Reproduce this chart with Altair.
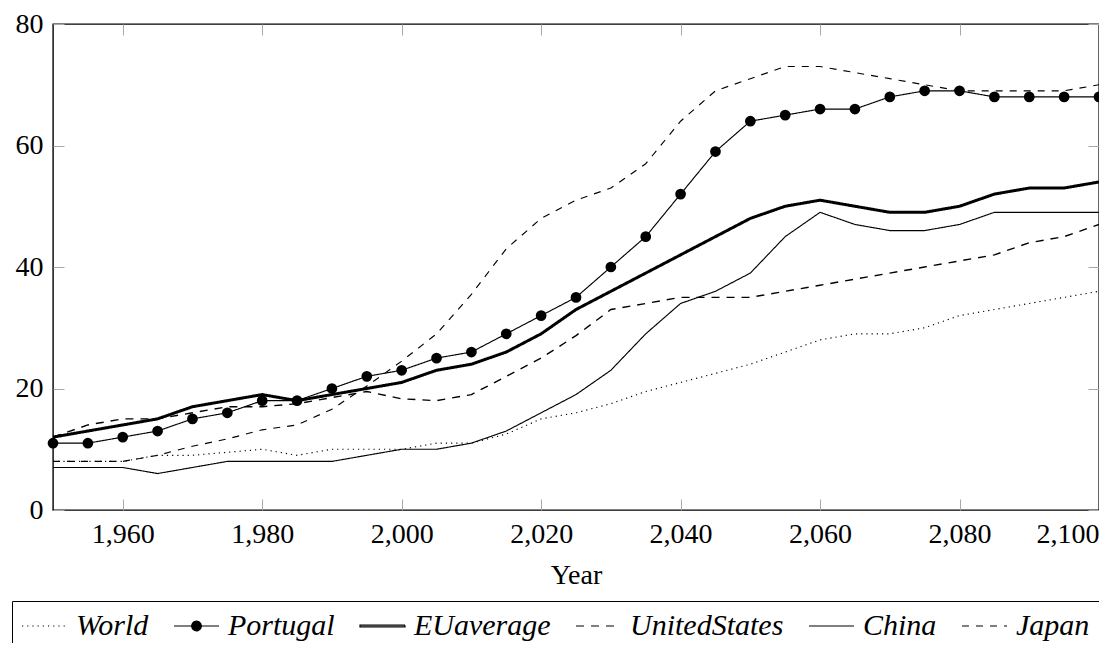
import altair as alt
import pandas as pd

years = list(range(1950, 2101, 5))
series_names = ["World", "Portugal", "EUaverage", "UnitedStates", "China", "Japan"]

world = [8, 8, 8, 9, 9, 9.5, 10, 9, 10, 10, 10,
         11, 11, 12.5, 15, 16, 17.5, 19.5, 21, 22.5, 24,
         26, 28, 29, 29, 30, 32, 33, 34, 35, 36]
portugal = [11, 11, 12, 13, 15, 16, 18, 18, 20, 22, 23,
            25, 26, 29, 32, 35, 40, 45, 52, 59, 64,
            65, 66, 66, 68, 69, 69, 68, 68, 68, 68]
eu_average = [12, 13, 14, 15, 17, 18, 19, 18, 19, 20, 21,
              23, 24, 26, 29, 33, 36, 39, 42, 45, 48,
              50, 51, 50, 49, 49, 50, 52, 53, 53, 54]
united_states = [12, 14, 15, 15, 16, 17, 17, 17.5, 18.5, 19.5, 18.3,
                 18, 19, 22, 25, 28.7, 33, 34, 35, 35, 35,
                 36, 37, 38, 39, 40, 41, 42, 44, 45, 47]
china = [7, 7, 7, 6, 7, 8, 8, 8, 8, 9, 10,
         10, 11, 13, 16, 19, 23, 29, 34, 36, 39,
         45, 49, 47, 46, 46, 47, 49, 49, 49, 49]
japan = [8, 8, 8, 9, 10.5, 11.7, 13.2, 14, 16.6, 20.4, 24.5,
         29, 35.5, 43, 48, 51, 53, 57, 64, 69, 71,
         73, 73, 72, 71, 70, 69, 69, 69, 69, 70]

x_ticks = [1960, 1980, 2000, 2020, 2040, 2060, 2080, 2100]
y_ticks = [0, 20, 40, 60, 80]

all_series = [world, portugal, eu_average, united_states, china, japan]
rows = []
for name, vals in zip(series_names, all_series):
    for yr, v in zip(years, vals):
        rows.append({"Year": yr, "value": v, "series": name})
df = pd.DataFrame(rows)

# line styles
dash_range = [[1.2, 4], [1, 0], [1, 0], [8, 7], [1, 0], [7, 7]]

# legend symbol paths (unit = half the nominal symbol box, box is 30px wide)
line_path = "M-1,0L2,0"
def ring(r, cx=0.5):
    return (f"M{cx + r:.3f},0A{r},{r},0,1,1,{cx - r:.3f},0"
            f"A{r},{r},0,1,1,{cx + r:.3f},0")
portugal_path = line_path + "".join(ring(r) for r in [0.32, 0.25, 0.18, 0.11, 0.05])
thick_path = "M-1,-0.055L2,-0.055L2,0.055L-1,0.055Z"
shape_range = [line_path, portugal_path, thick_path, line_path, line_path, line_path]

FONT = "Liberation Serif"

legend = alt.Legend(
    title=None, orient="none", legendX=-41, legendY=577,
    direction="horizontal", columns=6,
    labelFont=FONT, labelFontSize=30, labelFontStyle="italic", labelColor="black",
    labelLimit=0, labelOffset=23, columnPadding=22,
    symbolSize=900, symbolStrokeColor="black",
    symbolStrokeWidth=1.2, symbolOpacity=1,
    strokeColor="black", padding=9, fillColor="white",
)

x_enc = alt.X(
    "Year:Q",
    scale=alt.Scale(domain=[1950, 2100], nice=False, zero=False),
    axis=alt.Axis(values=x_ticks, format=",d", title="Year", labelFlush=True,
                  gridDash=[11, 464, 11, 5000], titlePadding=13),
)
y_enc = alt.Y(
    "value:Q",
    scale=alt.Scale(domain=[0, 80], nice=False),
    axis=alt.Axis(values=y_ticks, title=None, labelFlush=False,
                  gridDash=[11, 1024, 11, 5000]),
)

stroke_width = {
    "condition": [
        {"test": "datum.series === 'EUaverage'", "value": 3.0},
        {"test": "datum.series === 'UnitedStates'", "value": 1.4},
    ],
    "value": 1.15,
}

lines = alt.Chart(df).mark_line(color="black", opacity=1).encode(
    x=x_enc,
    y=y_enc,
    strokeDash=alt.StrokeDash("series:N",
                              scale=alt.Scale(domain=series_names, range=dash_range),
                              legend=legend),
    strokeWidth=stroke_width,
)

points = alt.Chart(df).transform_filter(alt.datum.series == "Portugal").mark_point(
    filled=True, color="black", opacity=1, size=115, shape="circle"
).encode(x=x_enc, y=y_enc)

legend_shapes = alt.Chart(df).transform_filter("false").mark_point(
    filled=False, color="black", opacity=1
).encode(
    x=x_enc,
    y=y_enc,
    shape=alt.Shape("series:N",
                    scale=alt.Scale(domain=series_names, range=shape_range),
                    legend=legend),
)

chart = alt.layer(lines, points, legend_shapes).properties(
    width=1046, height=486,
    autosize=alt.AutoSizeParams(type="none"),
    padding={"left": 45, "top": 16, "right": 0, "bottom": 133},
    background="white",
).configure_view(
    stroke="black", strokeWidth=1.4
).configure_axis(
    labelFont=FONT, labelFontSize=28, labelColor="black",
    titleFont=FONT, titleFontSize=28, titleColor="black", titleFontWeight="normal",
    ticks=False, domain=False, grid=True, gridColor="#a8a8a8", gridWidth=1,
    labelPadding=10, labelOverlap=False,
)

chart.save("out.html", embed_options={"renderer": "svg", "actions": False})
